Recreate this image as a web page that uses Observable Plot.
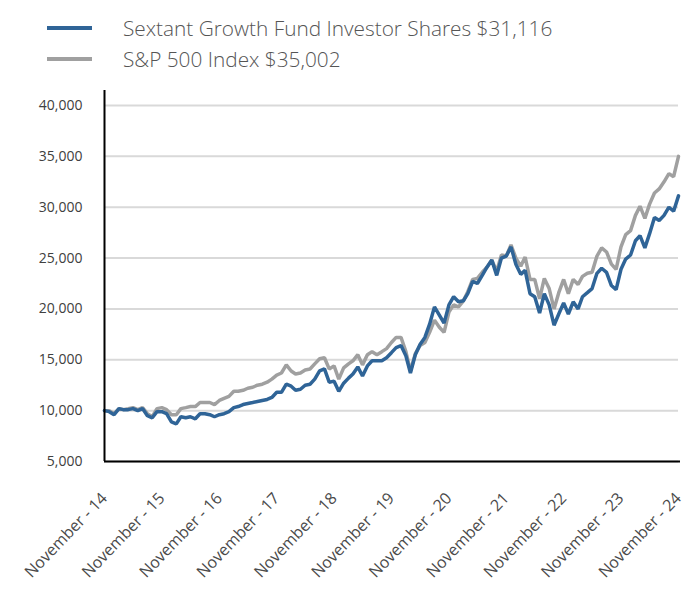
<!DOCTYPE html>
<html>
<head>
<meta charset="utf-8">
<script src="https://cdn.jsdelivr.net/npm/d3@7"></script>
<script src="https://cdn.jsdelivr.net/npm/@observablehq/plot@0.6"></script>
<style>
  html, body { margin: 0; padding: 0; background: #fff; }
  body { width: 696px; font-family: "Open Sans", sans-serif; }
  #legend { height: 90px; position: relative; }
  .item { position: absolute; left: 47px; display: flex; align-items: center; font-size: 20.8px; font-weight: 300; color: #555; white-space: nowrap; }
  .sw { width: 45px; height: 4px; margin-right: 31px; }
  svg { display: block; }
</style>
</head>
<body>
<div id="legend"></div>
<div id="chart"></div>
<script>
// Monthly growth of $10,000, November 2014 – November 2024
const startYear = 2014, startMonth = 10; // November 2014
const fundName = "Sextant Growth Fund Investor Shares $31,116";
const indexName = "S&P 500 Index $35,002";

const fundValues = [
  10000, 9900, 9600, 10200, 10100, 10100, 10200, 10000, 10200, 9500, 9300, 9900,
  9900, 9700, 8900, 8700, 9400, 9300, 9400, 9200, 9700, 9700, 9600, 9400,
  9600, 9700, 9900, 10300, 10400, 10600, 10700, 10800, 10900, 11000, 11100, 11300,
  11800, 11800, 12600, 12400, 12000, 12100, 12500, 12600, 13100, 13900, 14100, 12800,
  12900, 11900, 12700, 13200, 13600, 14300, 13400, 14400, 14900, 14900, 14900, 15200,
  15700, 16200, 16400, 15400, 13700, 15500, 16500, 17200, 18500, 20200, 19400, 18600,
  20400, 21200, 20700, 20800, 21500, 22700, 22500, 23300, 24100, 24800, 23300, 25000,
  25200, 26100, 24400, 23400, 23800, 21500, 21200, 19600, 21500, 20400, 18400, 19500,
  20600, 19500, 20700, 20000, 21200, 21600, 22000, 23500, 24000, 23600, 22300, 21900,
  23900, 24900, 25300, 26700, 27200, 26000, 27400, 29000, 28700, 29200, 30000, 29600,
  31116
];

const indexValues = [
  10000, 10000, 9700, 10200, 10100, 10200, 10300, 10100, 10300, 9700, 9400, 10200,
  10300, 10100, 9600, 9600, 10200, 10300, 10400, 10400, 10800, 10800, 10800, 10600,
  11000, 11200, 11400, 11900, 11900, 12000, 12200, 12300, 12500, 12600, 12800, 13100,
  13500, 13700, 14500, 13900, 13600, 13700, 14000, 14100, 14600, 15100, 15200, 14100,
  14400, 13100, 14200, 14600, 14900, 15500, 14500, 15500, 15800, 15500, 15800, 16100,
  16700, 17200, 17200, 15800, 13900, 15600, 16400, 16700, 17700, 18900, 18200, 17700,
  19700, 20400, 20200, 20800, 21700, 22900, 23000, 23600, 24100, 24800, 23700, 25300,
  25200, 26300, 25000, 24200, 25100, 22900, 22900, 21000, 23000, 22000, 20000, 21600,
  22900, 21500, 22900, 22400, 23200, 23500, 23600, 25200, 26000, 25600, 24400, 23900,
  26100, 27300, 27700, 29200, 30100, 28900, 30300, 31400, 31800, 32500, 33300, 33000,
  35002
];

const yTicks = [5000, 10000, 15000, 20000, 25000, 30000, 35000, 40000];
const xTickYears = [2014, 2015, 2016, 2017, 2018, 2019, 2020, 2021, 2022, 2023, 2024];
const xTickLabels = ["November - 14", "November - 15", "November - 16", "November - 17", "November - 18",
  "November - 19", "November - 20", "November - 21", "November - 22", "November - 23", "November - 24"];
const yTop = 41700; // top end of the vertical axis line

const fundColor = "#2f6497";
const indexColor = "#a0a0a0";

const monthDate = i => new Date(startYear, startMonth + i, 1);
const fundData = fundValues.map((v, i) => ({date: monthDate(i), value: v}));
const indexData = indexValues.map((v, i) => ({date: monthDate(i), value: v}));
const xTicks = xTickYears.map(y => new Date(y, 10, 1));
const labelByYear = new Map(xTickYears.map((y, i) => [y, xTickLabels[i]]));

// Legend
const legend = document.getElementById("legend");
[[fundName, fundColor, 14], [indexName, indexColor, 45]].forEach(([name, color, top]) => {
  const item = document.createElement("div");
  item.className = "item";
  item.style.top = top + "px";
  const sw = document.createElement("span");
  sw.className = "sw";
  sw.style.background = color;
  const tx = document.createElement("span");
  tx.textContent = name;
  item.appendChild(sw);
  item.appendChild(tx);
  legend.appendChild(item);
});

const chart = Plot.plot({
  width: 696,
  height: 510,
  marginTop: 15,
  marginBottom: 139,
  marginLeft: 104,
  marginRight: 18,
  style: {fontFamily: "'Open Sans', sans-serif", fontSize: "14px", color: "#404040", background: "#fff"},
  x: {type: "time", domain: [monthDate(0), monthDate(fundValues.length - 1)], label: null},
  y: {domain: [5000, 40000], label: null},
  marks: [
    Plot.gridY(yTicks, {stroke: "#d9d9d9", strokeOpacity: 1, strokeWidth: 2}),
    Plot.axisY({ticks: yTicks, tickSize: 0, tickPadding: 22, tickFormat: d3.format(","), fontSize: 14, label: null}),
    Plot.axisX({ticks: xTicks, tickSize: 0, tickPadding: 34, dx: 0, tickRotate: -46,
      tickFormat: d => labelByYear.get(d.getFullYear()), fontSize: 16, fill: "#4a4a4a", label: null}),
    Plot.line(indexData, {x: "date", y: "value", stroke: indexColor, strokeWidth: 3.5, strokeLinejoin: "miter"}),
    Plot.line(fundData, {x: "date", y: "value", stroke: fundColor, strokeWidth: 3.5, strokeLinejoin: "miter"}),
    Plot.ruleX([monthDate(0)], {y1: 5000, y2: yTop, stroke: "#000", strokeWidth: 2, clip: false}),
    Plot.ruleY([5000], {stroke: "#000", strokeWidth: 2, x1: monthDate(0), x2: monthDate(fundValues.length - 1), insetRight: -2})
  ]
});
document.getElementById("chart").appendChild(chart);
</script>
</body>
</html>
